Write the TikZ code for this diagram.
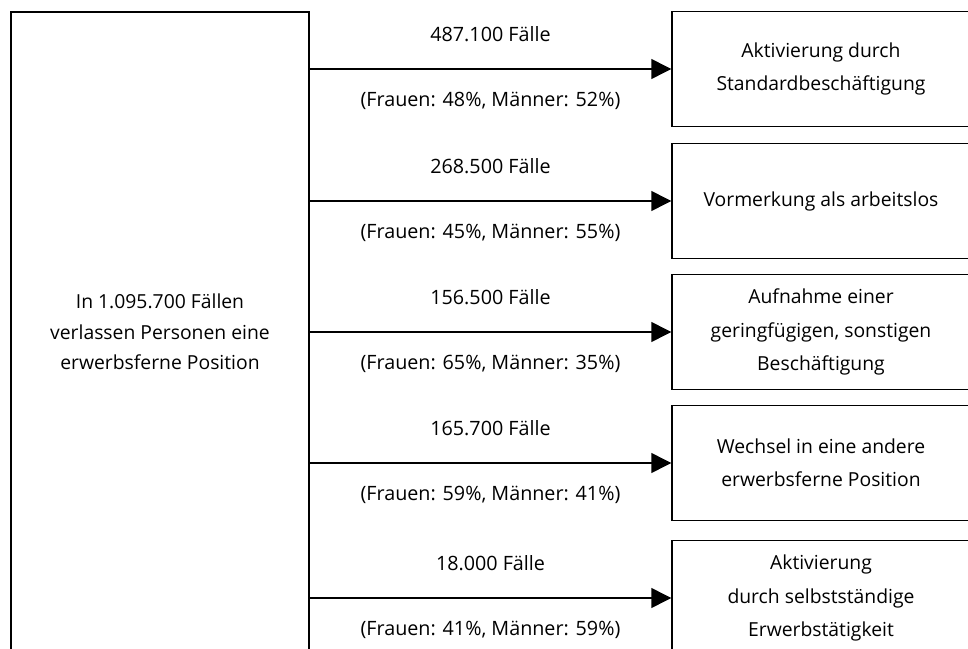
\documentclass[tikz,border=0pt]{standalone}
\usepackage{fontspec}
\setmainfont{Open Sans}
\usetikzlibrary{arrows.meta}

\begin{document}
\begin{tikzpicture}
  [x=0.75pt, y=-0.75pt,
   srcbox/.style={draw, line width=1.1pt, minimum width=223.5pt, minimum height=480pt,
                  align=center, font=\fontsize{14.5}{23}\selectfont},
   dstbox/.style={draw, line width=1.1pt, minimum width=223.5pt, minimum height=86.25pt,
                  align=center, font=\fontsize{14.5}{25}\selectfont},
   flow/.style={line width=1.1pt, -{Triangle[length=15pt, width=15pt]}},
   upper/.style={midway, yshift=26pt, font=\fontsize{14.8}{16}\selectfont},
   lower/.style={midway, yshift=-24pt, font=\fontsize{14.8}{16}\selectfont}]
  \useasboundingbox (0,0) rectangle (968,649);
  \clip (0,0) rectangle (968,649);

  \node[srcbox] (src) at (160, 332) {In 1.095.700 Fällen\\verlassen Personen eine\\erwerbsferne Position};

  \node[dstbox] (dst1) at (821, 69) {Aktivierung durch\\Standardbeschäftigung};
  \node[dstbox] (dst2) at (821, 201) {Vormerkung als arbeitslos};
  \node[dstbox] (dst3) at (821, 332) {Aufnahme einer\\geringfügigen, sonstigen\\Beschäftigung};
  \node[dstbox] (dst4) at (821, 463) {Wechsel in eine andere\\erwerbsferne Position};
  \node[dstbox] (dst5) at (821, 598) {Aktivierung\\durch selbstständige\\Erwerbstätigkeit};

  \draw[flow] (src.east |- dst1.west) -- (dst1.west)
    node[upper] {487.100 Fälle} node[lower] {(Frauen: 48\%, Männer: 52\%)};
  \draw[flow] (src.east |- dst2.west) -- (dst2.west)
    node[upper] {268.500 Fälle} node[lower] {(Frauen: 45\%, Männer: 55\%)};
  \draw[flow] (src.east |- dst3.west) -- (dst3.west)
    node[upper] {156.500 Fälle} node[lower] {(Frauen: 65\%, Männer: 35\%)};
  \draw[flow] (src.east |- dst4.west) -- (dst4.west)
    node[upper] {165.700 Fälle} node[lower] {(Frauen: 59\%, Männer: 41\%)};
  \draw[flow] (src.east |- dst5.west) -- (dst5.west)
    node[upper] {18.000 Fälle} node[lower] {(Frauen: 41\%, Männer: 59\%)};
\end{tikzpicture}
\end{document}
